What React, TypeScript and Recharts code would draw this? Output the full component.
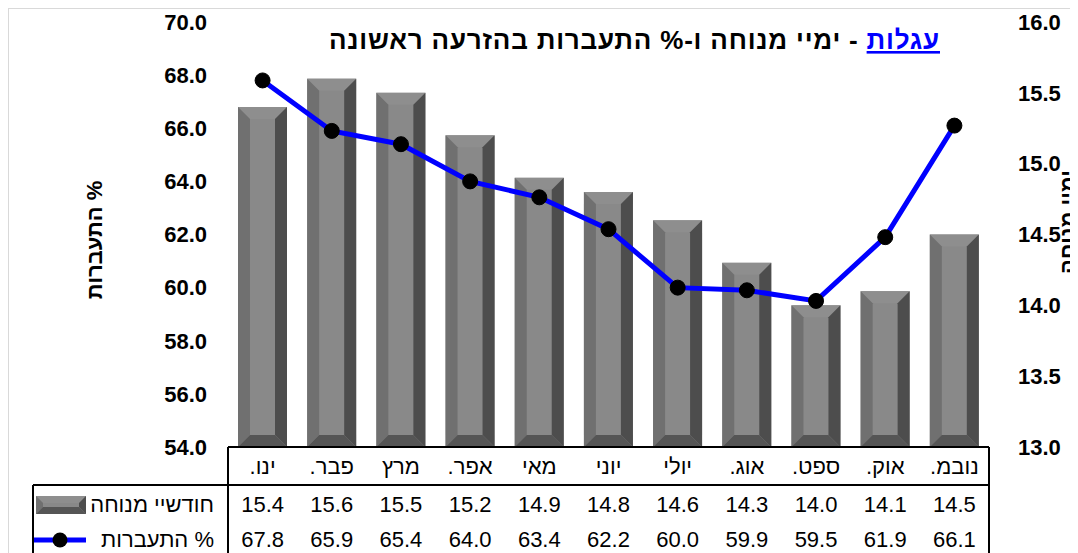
import { ComposedChart, Bar, Line, XAxis, YAxis } from "recharts";

// months, left to right
const months = ["ינו.", "פבר.", "מרץ", "אפר.", "מאי", "יוני", "יולי", "אוג.", "ספט.", "אוק.", "נובמ."];
// bars, right axis
const restMonths = [15.4, 15.6, 15.5, 15.2, 14.9, 14.8, 14.6, 14.3, 14.0, 14.1, 14.5];
// line, left axis
const conception = [67.8, 65.9, 65.4, 64.0, 63.4, 62.2, 60.0, 59.9, 59.5, 61.9, 66.1];

const leftTicks = [54, 56, 58, 60, 62, 64, 66, 68, 70];
const rightTicks = [13, 13.5, 14, 14.5, 15, 15.5, 16];

const titleMain = "עגלות";
const titleRest = " - ימיי מנוחה ו-% התעברות בהזרעה ראשונה";
const leftTitle = "% התעברות";
const rightTitle = "ימיי מנוחה";
const barName = "חודשיי מנוחה";
const lineName = "התעברות %";

const data = months.map((m, i) => ({ month: m, rest: restMonths[i], conc: conception[i] }));

const W = 1070;
const H = 545;
const PL = 220;
const PR = 981;
const PT = 14;
const PB = 439;
const FONT = "'Liberation Sans', Arial, sans-serif";

const bevel = (x: number, y: number, w: number, h: number, b: number) => (
  <g>
    <rect x={x} y={y} width={w} height={h} fill="#898989" />
    <polygon points={`${x},${y} ${x + w},${y} ${x + w - b},${y + b} ${x + b},${y + b}`} fill="#8e8e8e" />
    <polygon points={`${x},${y} ${x + b},${y + b} ${x + b},${y + h - b} ${x},${y + h}`} fill="#707070" />
    <polygon points={`${x + w},${y} ${x + w},${y + h} ${x + w - b},${y + h - b} ${x + w - b},${y + b}`} fill="#4d4d4d" />
    <polygon points={`${x},${y + h} ${x + b},${y + h - b} ${x + w - b},${y + h - b} ${x + w},${y + h}`} fill="#555555" />
  </g>
);

const BevelBar = (props: any) => {
  const { x, y, width, height } = props;
  if (!height || height <= 0) return null;
  return bevel(x, y, width, height, Math.min(12, width / 4, height / 2));
};

const TableTick = (props: any) => {
  const { x, y, payload } = props;
  const i = payload.index;
  return (
    <g fontFamily={FONT} fontSize={22} fill="#000">
      <text x={x} y={y + 27} textAnchor="middle" direction="rtl">{payload.value}</text>
      <text x={x} y={y + 65} textAnchor="middle">{restMonths[i].toFixed(1)}</text>
      <text x={x} y={y + 100} textAnchor="middle">{conception[i].toFixed(1)}</text>
    </g>
  );
};

const tickStyle = { fill: "#000", fontSize: 22, fontWeight: "bold", fontFamily: FONT };

export default function App() {
  return (
    <div style={{ position: "relative", width: W, height: H, fontFamily: FONT }}>
      <ComposedChart width={W} height={H} data={data} margin={{ top: PT, right: 0, left: 0, bottom: 0 }}>
        <XAxis
          dataKey="month"
          height={H - PB}
          interval={0}
          axisLine={false}
          tickLine={false}
          tickSize={0}
          tickMargin={0}
          tick={<TableTick />}
        />
        <YAxis
          yAxisId="left"
          orientation="left"
          width={PL}
          domain={[54, 70]}
          ticks={leftTicks}
          tickFormatter={(v) => v.toFixed(1)}
          axisLine={false}
          tickLine={false}
          tickSize={0}
          tickMargin={21}
          tick={tickStyle}
        />
        <YAxis
          yAxisId="right"
          orientation="right"
          width={W - PR}
          domain={[13, 16]}
          ticks={rightTicks}
          tickFormatter={(v) => v.toFixed(1)}
          axisLine={false}
          tickLine={false}
          tickSize={0}
          tickMargin={29}
          tick={tickStyle}
        />
        <Bar yAxisId="right" dataKey="rest" barSize={49} shape={<BevelBar />} isAnimationActive={false} />
        <Line
          yAxisId="left"
          dataKey="conc"
          stroke="#0000ff"
          strokeWidth={5}
          dot={{ r: 7.5, fill: "#000", stroke: "#000", strokeWidth: 1 }}
          isAnimationActive={false}
        />
      </ComposedChart>
      <svg
        width={W}
        height={H}
        style={{ position: "absolute", left: 0, top: 0, overflow: "visible", pointerEvents: "none" }}
        fontFamily={FONT}
      >
        {/* outer frame */}
        <path d={`M0,${H + 10} L0,0 L${W + 10},0`} fill="none" stroke="#d9d9d9" strokeWidth={2} />
        {/* title */}
        <text x={932} y={41} direction="rtl" textAnchor="start" fontSize={26} fontWeight="bold" letterSpacing={0.8}>
          <tspan fill="#0000ff" textDecoration="underline">{titleMain}</tspan>
          <tspan fill="#000">{titleRest}</tspan>
        </text>
        {/* axis titles */}
        <text
          transform="translate(86,232) rotate(-90)"
          textAnchor="middle"
          dominantBaseline="central"
          direction="rtl"
          fontSize={22}
          fontWeight="bold"
        >
          {leftTitle}
        </text>
        <text
          transform="translate(1059,214) rotate(-90)"
          textAnchor="middle"
          dominantBaseline="central"
          direction="rtl"
          fontSize={22}
          fontWeight="bold"
        >
          {rightTitle}
        </text>
        {/* data table grid */}
        <g stroke="#000" strokeWidth={2} fill="none">
          <line x1={PL} y1={PB} x2={PR} y2={PB} />
          <line x1={25} y1={477} x2={PR} y2={477} />
          <line x1={25} y1={477} x2={25} y2={H + 5} />
          <line x1={PL} y1={PB} x2={PL} y2={H + 5} />
          <line x1={PR} y1={PB} x2={PR} y2={H + 5} />
        </g>
        {/* table legend */}
        {bevel(28, 488, 50, 18, 7)}
        <text x={206} y={504} textAnchor="end" fontSize={22}>{barName}</text>
        <line x1={26} y1={532} x2={78} y2={532} stroke="#0000ff" strokeWidth={5} />
        <circle cx={52} cy={532} r={7.5} fill="#000" />
        <text x={206} y={539} textAnchor="end" fontSize={22}>{lineName}</text>
      </svg>
    </div>
  );
}
